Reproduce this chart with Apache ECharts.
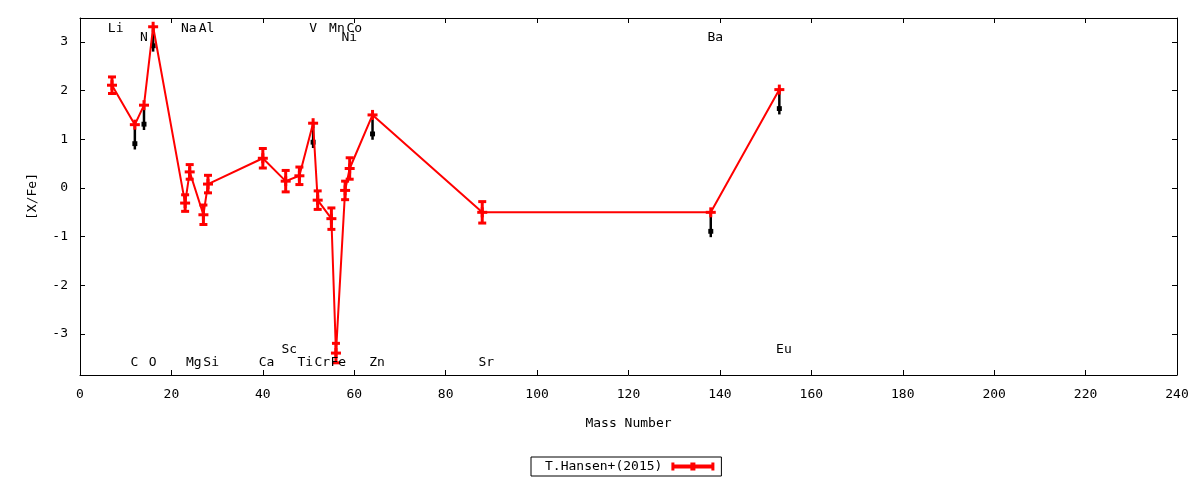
<!DOCTYPE html>
<html>
<head>
<meta charset="utf-8">
<script src="https://cdn.jsdelivr.net/npm/echarts/dist/echarts.min.js"></script>
<style>
  html, body { margin: 0; padding: 0; background: #fff; }
  #chart { width: 1200px; height: 480px; }
</style>
</head>
<body>
<div id="chart"></div>
<script>
var elements = ['Li', 'C', 'N', 'O', 'Na', 'Mg', 'Al', 'Si', 'Ca', 'Sc', 'Ti', 'V', 'Cr', 'Mn', 'Fe', 'Ni', 'Co', 'Zn', 'Sr', 'Ba', 'Eu'];
var massNumbers = [7, 12, 14, 16, 23, 24, 27, 28, 40, 45, 48, 51, 52, 55, 56, 58, 59, 64, 88, 138, 153];
var xFe = [2.11, 1.30, 1.70, 3.31, -0.31, 0.33, -0.55, 0.08, 0.61, 0.14, 0.25, 1.33, -0.25, -0.63, -3.39, -0.05, 0.40, 1.50, -0.50, -0.50, 2.02];
var xFeErr = [0.17, 0, 0, 0, 0.17, 0.15, 0.20, 0.18, 0.20, 0.22, 0.18, 0, 0.19, 0.22, 0.20, 0.19, 0.22, 0, 0.22, 0, 0];
var upperLimit = [0, 1, 1, 1, 0, 0, 0, 0, 0, 0, 0, 1, 0, 0, 0, 0, 0, 1, 0, 1, 1];

// element name annotations (data coordinates)
var labelX = [7.8, 11.9, 14.0, 15.9, 23.8, 24.9, 27.7, 28.7, 40.8, 45.8, 49.3, 51.0, 53.0, 56.2, 56.5, 58.9, 60.0, 65.0, 88.9, 139.0, 154.0];
var labelY = [3.27, -3.58, 3.09, -3.58, 3.27, -3.58, 3.27, -3.58, -3.58, -3.31, -3.58, 3.27, -3.58, 3.27, -3.58, 3.09, 3.27, -3.58, -3.58, 3.09, -3.31];

var xTicks = [0, 240, 20];
var yTicks = [-3, -2, -1, 0, 1, 2, 3];
var yRange = [-3.84, 3.49];
var seriesName = 'T.Hansen+(2015)';

var FONT = 'DejaVu Sans Mono';
var RED = '#ff0000';

var points = massNumbers.map(function (m, i) { return [m, xFe[i], xFeErr[i], upperLimit[i]]; });
var limits = points.filter(function (p) { return p[3]; });
var labels = elements.map(function (e, i) { return [labelX[i], labelY[i], e]; });

var myChart = echarts.init(document.getElementById('chart'));

function xAxisCfg(pos, showLabel) {
    return {
        type: 'value', position: pos, min: xTicks[0], max: xTicks[1], interval: xTicks[2],
        name: showLabel ? 'Mass Number' : '', nameLocation: 'middle', nameGap: 42,
        nameTextStyle: { fontFamily: FONT, fontSize: 13, color: '#000' },
        axisLine: { show: true, onZero: false, lineStyle: { color: '#000', width: 1 } },
        axisTick: { show: true, inside: true, length: 5, lineStyle: { color: '#000' } },
        axisLabel: { show: showLabel, margin: 13, fontFamily: FONT, fontSize: 13, color: '#000' },
        splitLine: { show: false }
    };
}

function yAxisCfg(pos, showLabel) {
    return {
        type: 'value', position: pos, min: yRange[0], max: yRange[1],
        name: showLabel ? '[X/Fe]' : '', nameLocation: 'middle', nameGap: 41, nameRotate: 90,
        nameTextStyle: { fontFamily: FONT, fontSize: 13, color: '#000' },
        axisLine: { show: true, onZero: false, lineStyle: { color: '#000', width: 1 } },
        axisTick: { show: true, inside: true, length: 5, customValues: yTicks, lineStyle: { color: '#000' } },
        axisLabel: { show: showLabel, margin: 12, customValues: yTicks, fontFamily: FONT, fontSize: 13, color: '#000' },
        splitLine: { show: false }
    };
}

var option = {
    animation: false,
    backgroundColor: '#fff',
    grid: { left: 80, right: 23, top: 18, bottom: 105, containLabel: false },
    xAxis: [xAxisCfg('bottom', true), xAxisCfg('top', false)],
    yAxis: [yAxisCfg('left', true), yAxisCfg('right', false)],
    legend: {
        bottom: 4, left: 531,
        align: 'right',
        borderColor: '#000', borderWidth: 1, borderRadius: 0,
        padding: [3, 7, 3, 14],
        itemWidth: 43, itemHeight: 8,
        textStyle: { fontFamily: FONT, fontSize: 13, color: '#000', padding: [0, 4, 0, 0] },
        data: [{ name: seriesName, icon: 'path://M0,2h43v4h-43z M0,0h3v8h-3z M40,0h3v8h-3z M19,0h5v8h-5z' }]
    },
    series: [
        {
            // upper limit arrows
            type: 'custom', z: 1, silent: true,
            data: limits,
            renderItem: function (params, api) {
                var x = api.value(0), y = api.value(1);
                var p = api.coord([x, y]);
                var end = api.coord([x, y - 0.51]);
                var h1 = api.coord([x, y - 0.34]);
                var h2 = api.coord([x, y - 0.44]);
                return {
                    type: 'group',
                    children: [
                        { type: 'line', shape: { x1: p[0], y1: p[1], x2: end[0], y2: end[1] }, style: { stroke: '#000', lineWidth: 2.5 } },
                        { type: 'rect', shape: { x: h1[0] - 2.5, y: h1[1], width: 5, height: h2[1] - h1[1] }, style: { fill: '#000' } }
                    ]
                };
            }
        },
        {
            name: seriesName, type: 'line', z: 2,
            data: points.map(function (p) { return [p[0], p[1]]; }),
            showSymbol: false, symbol: 'none',
            lineStyle: { color: RED, width: 2 },
            itemStyle: { color: RED }
        },
        {
            name: seriesName, type: 'custom', z: 3, silent: true,
            itemStyle: { color: RED },
            data: points,
            renderItem: function (params, api) {
                var x = api.value(0), y = api.value(1), e = api.value(2);
                var p = api.coord([x, y]);
                var st = { stroke: RED, lineWidth: 3 };
                var s = 5, c = 4;
                var children = [
                    { type: 'line', shape: { x1: p[0] - s, y1: p[1], x2: p[0] + s, y2: p[1] }, style: st },
                    { type: 'line', shape: { x1: p[0], y1: p[1] - s, x2: p[0], y2: p[1] + s }, style: st }
                ];
                if (e > 0) {
                    var hi = api.coord([x, y + e]), lo = api.coord([x, y - e]);
                    children.push({ type: 'line', shape: { x1: p[0], y1: hi[1], x2: p[0], y2: lo[1] }, style: st });
                    children.push({ type: 'line', shape: { x1: p[0] - c, y1: hi[1], x2: p[0] + c, y2: hi[1] }, style: st });
                    children.push({ type: 'line', shape: { x1: p[0] - c, y1: lo[1], x2: p[0] + c, y2: lo[1] }, style: st });
                }
                return { type: 'group', children: children };
            }
        },
        {
            // element names
            type: 'custom', z: 4, silent: true,
            data: labels,
            renderItem: function (params, api) {
                var p = api.coord([api.value(0), api.value(1)]);
                return {
                    type: 'text', x: p[0], y: p[1],
                    style: {
                        text: labels[params.dataIndex][2],
                        fill: '#000', font: '13px "' + FONT + '"',
                        align: 'center', verticalAlign: 'middle',
                        textAlign: 'center', textVerticalAlign: 'middle'
                    }
                };
            }
        }
    ]
};

myChart.setOption(option);
window.addEventListener('resize', function () {
    myChart.resize();
});
</script>
</body>
</html>
